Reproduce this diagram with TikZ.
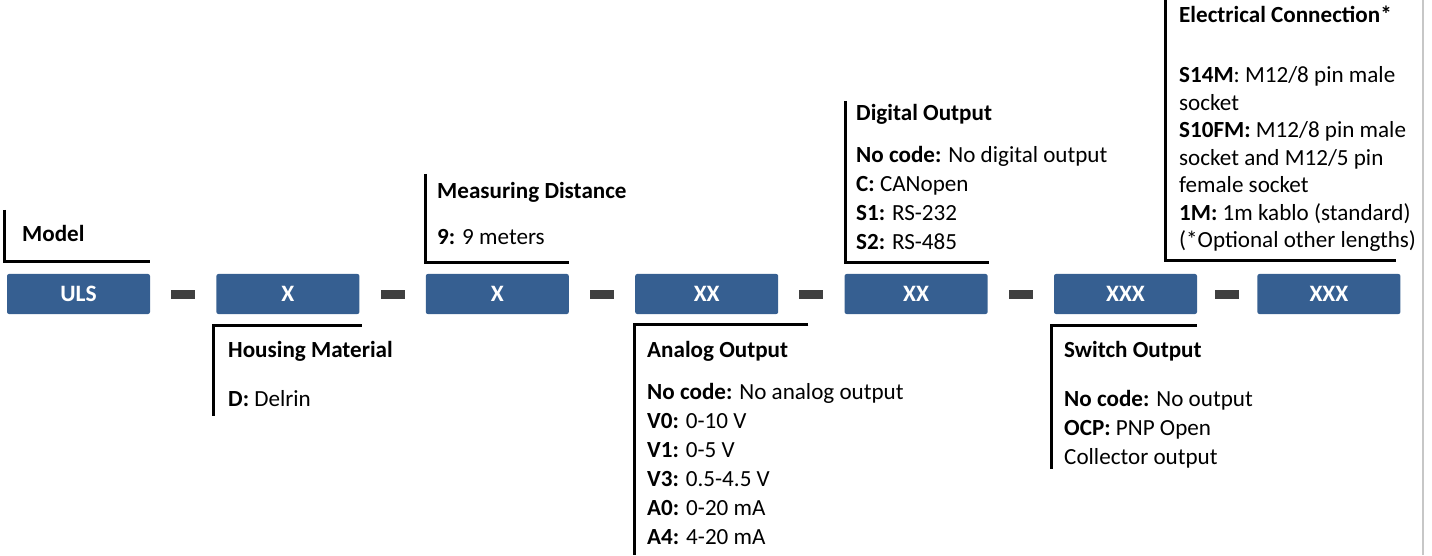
\documentclass[tikz,border=0pt]{standalone}
\usepackage{fontspec}
\setmainfont{Carlito}
\usetikzlibrary{positioning,calc}

\definecolor{codeblue}{HTML}{365F91}
\definecolor{dashgrey}{HTML}{404040}

\begin{document}
\begin{tikzpicture}[
    x = 1pt, y = 1pt, % one unit per pixel
    node distance = 66pt, % gap between code boxes
    codebox/.style = {fill=codeblue, rounded corners=2pt, minimum width=143pt,
        minimum height=40pt, inner sep=0pt, text=white,
        font=\bfseries\fontsize{23.5}{26}\selectfont},
    sepbar/.style = {fill=dashgrey, minimum width=24pt, minimum height=9pt, inner sep=0pt},
    bracket/.style = {line width=3pt, black},
    info/.style = {anchor=north west, align=left, inner sep=0pt,
        font=\fontsize{23.1}{29}\selectfont}
    ]
    \useasboundingbox (0,0) rectangle (1432,555);

    % code boxes
    \node[codebox] (uls) at (78.5,261) {ULS};
    \node[codebox] (mat) [right=of uls] {X};
    \node[codebox] (dist) [right=of mat] {X};
    \node[codebox] (ana) [right=of dist] {XX};
    \node[codebox] (dig) [right=of ana] {XX};
    \node[codebox] (sw) [right=of dig] {XXX};
    \node[codebox] (con) [right=60pt of sw] {XXX};

    % separators
    \foreach \a/\b in {uls/mat, mat/dist, dist/ana, ana/dig, dig/sw, sw/con}
        \node[sepbar] (sep-\a) at ($(\a)!0.5!(\b)$) {};

    % brackets above
    \draw[bracket] ([shift={(-2,64)}]uls.north west) |- ([yshift=12]uls.north east);
    \draw[bracket] ([shift={(0,100)}]dist.north west) |- ([yshift=11]dist.north east);
    \draw[bracket] ([shift={(1,173)}]dig.north west) |- ([shift={(1,11)}]dig.north east);
    \draw[bracket] ([shift={(-92,274)}]con.north west) |- ([shift={(-5,13)}]con.north east);

    % brackets below
    \draw[bracket] ([shift={(2,-11)}]mat.south east) -| ([shift={(-3,-102)}]mat.south west);
    \draw[bracket] ([shift={(30,-10)}]ana.south east) -| ([shift={(-1,-241)}]ana.south west);
    \draw[bracket] ([shift={(0,-11)}]sw.south east) -| ([shift={(-2,-155)}]sw.south west);

    % texts
    \node[info] (t-model) at (22,330) {\textbf{Model}};
    \node[info] (t-mat) at (228,214) {\textbf{Housing Material}\\[20pt]
        \textbf{D:} Delrin};
    \node[info] (t-dist) at (437,373) {\textbf{Measuring Distance}\\[17pt]
        \textbf{9:} 9 meters};
    \node[info] (t-ana) at (647,214) {\textbf{Analog Output}\\[13pt]
        \textbf{No code:} No analog output\\
        \textbf{V0:} 0-10 V\\
        \textbf{V1:} 0-5 V\\
        \textbf{V3:} 0.5-4.5 V\\
        \textbf{A0:} 0-20 mA\\
        \textbf{A4:} 4-20 mA};
    \node[info] (t-dig) at (856,451) {\textbf{Digital Output}\\[13pt]
        \textbf{No code:} No digital output\\
        \textbf{C:} CANopen\\
        \textbf{S1:} RS-232\\
        \textbf{S2:} RS-485};
    \node[info] (t-sw) at (1064,214) {\textbf{Switch Output}\\[20pt]
        \textbf{No code:} No output\\
        \textbf{OCP:} PNP Open\\
        Collector output};
    \node[info, font=\fontsize{23.1}{27.5}\selectfont] (t-con) at (1179,549)
        {\textbf{Electrical Connection*}\\[32.5pt]
        \textbf{S14M}: M12/8 pin male\\
        socket\\
        \textbf{S10FM:} M12/8 pin male\\
        socket and M12/5 pin\\
        female socket\\
        \textbf{1M:} 1m kablo (standard)\\
        (*Optional other lengths)};

    % page edge
    \draw[line width=2pt, black!22] (1423,0) -- (1423,555);
\end{tikzpicture}
\end{document}
